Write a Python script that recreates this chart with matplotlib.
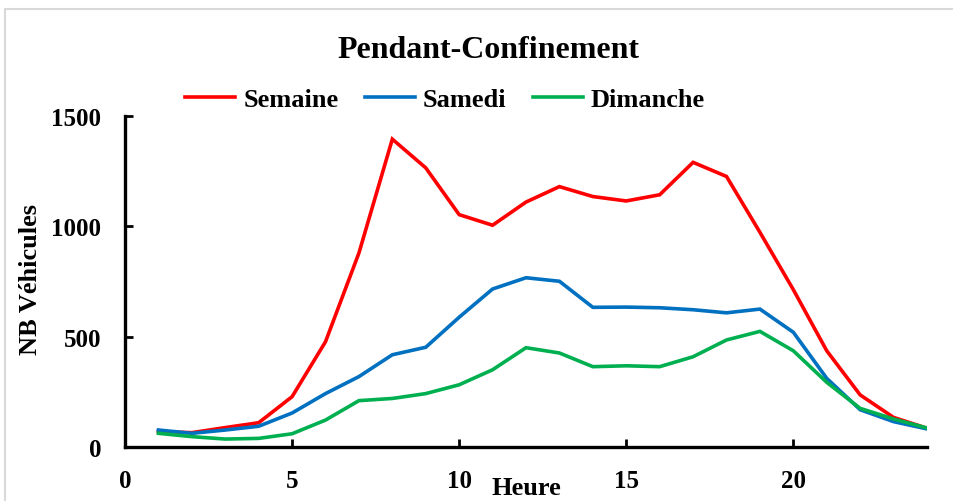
import matplotlib
matplotlib.use("Agg")
import matplotlib.pyplot as plt
from matplotlib.patches import Rectangle

hours = list(range(1, 25))
semaine = [70, 65, 88, 110, 228, 477, 879, 1395, 1265, 1053, 1005, 1110, 1180, 1135,
           1115, 1143, 1290, 1226, 973, 713, 436, 236, 134, 85]
samedi = [77, 62, 77, 94, 154, 242, 319, 418, 452, 588, 716, 767, 751, 633,
          634, 631, 622, 608, 625, 520, 311, 169, 115, 82]
dimanche = [62, 47, 36, 39, 60, 122, 210, 220, 242, 282, 350, 450, 426, 364,
            368, 364, 409, 485, 524, 436, 293, 175, 127, 86]

title = "Pendant-Confinement"
series_names = ["Semaine", "Samedi", "Dimanche"]
colors = ["#FF0000", "#0070C0", "#00B050"]
xticks = [0, 5, 10, 15, 20]
yticks = [0, 500, 1000, 1500]

plt.rcParams['font.family'] = ['Liberation Serif', 'DejaVu Serif']
plt.rcParams['font.weight'] = 'bold'

fig = plt.figure(figsize=(9.54, 5.02), dpi=100)
fig.patches.append(Rectangle((5/954, -0.1), 1.2, 1 - 10/502 + 0.1, transform=fig.transFigure,
                             fill=False, edgecolor='#d9d9d9', linewidth=1.5))
ax = fig.add_axes([125/954, 1 - 448/502, (927 - 125)/954, (448 - 117)/502])

for vals, name, c in zip([semaine, samedi, dimanche], series_names, colors):
    ax.plot(hours, vals, color=c, lw=2.6, label=name, solid_joinstyle='miter')

ax.set_xlim(0, 24)
ax.set_ylim(0, 1500)
ax.set_xticks(xticks)
ax.set_yticks(yticks)
for s in ['top', 'right']:
    ax.spines[s].set_visible(False)
for s in ['left', 'bottom']:
    ax.spines[s].set_linewidth(2.4)
ax.tick_params(axis='both', direction='in', length=6, width=2, labelsize=18)
ax.tick_params(axis='x', pad=16)
ax.tick_params(axis='y', pad=17)
for lab in ax.get_xticklabels() + ax.get_yticklabels():
    lab.set_fontweight('bold')

fig.text(488/954, 1 - 50/502, title, ha='center', va='center', fontsize=23, fontweight='bold')
fig.text(526/954, 1 - 489/502, "Heure", ha='center', va='center', fontsize=19, fontweight='bold')
fig.text(31/954, 1 - 280/502, "NB Véhicules", ha='center', va='center', rotation=90,
         fontsize=19, fontweight='bold')

leg = fig.legend(loc='center', bbox_to_anchor=(445/954, 1 - 100/502), ncol=3, frameon=False,
                 prop={'weight': 'bold', 'size': 19}, handlelength=1.9, columnspacing=1.0,
                 handletextpad=0.3)

fig.savefig("out.png", dpi=100)
